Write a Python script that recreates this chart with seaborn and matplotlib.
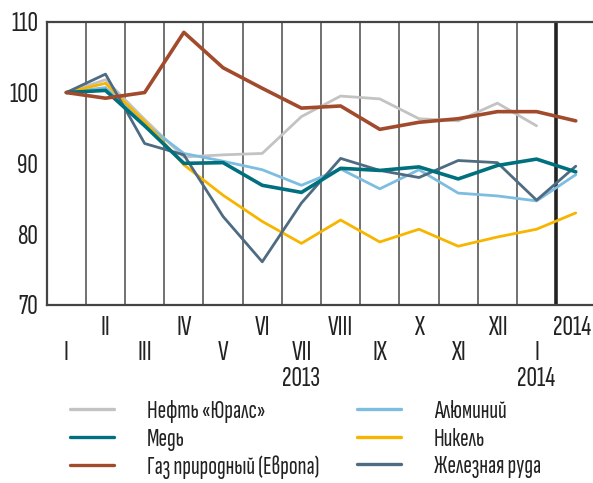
import matplotlib
matplotlib.use("Agg")
import matplotlib.pyplot as plt
from matplotlib.lines import Line2D
from matplotlib.transforms import ScaledTranslation
import seaborn as sns
import pandas as pd

sns.set_theme(style="white")
plt.rcParams['font.family'] = ['Sofia Sans Extra Condensed', 'Roboto Condensed', 'DejaVu Sans']

months = ["I", "II", "III", "IV", "V", "VI", "VII", "VIII", "IX", "X", "XI", "XII", "I", "2014"]
year_labels = {6: "2013", 12: "2014"}

oil = [100, 101.8, 96.2, 90.9, 91.2, 91.4, 96.6, 99.5, 99.1, 96.3, 96.0, 98.5, 95.3]
copper = [100, 100.3, 95.3, 90.0, 90.1, 86.9, 85.9, 89.3, 89.0, 89.5, 87.8, 89.7, 90.6, 88.8]
gas = [100, 99.2, 100.0, 108.5, 103.5, 100.6, 97.8, 98.1, 94.8, 95.8, 96.3, 97.3, 97.3, 96.0]
aluminium = [100, 100.7, 95.6, 91.4, 90.3, 89.1, 86.9, 89.2, 86.4, 89.1, 85.8, 85.4, 84.7, 88.4]
nickel = [100, 101.3, 95.9, 89.8, 85.5, 81.8, 78.7, 82.0, 78.9, 80.7, 78.3, 79.6, 80.7, 83.0]
iron = [100, 102.6, 92.8, 91.2, 82.5, 76.1, 84.4, 90.7, 89.0, 88.0, 90.4, 90.1, 84.8, 89.6]

series = [
    ("Нефть «Юралс»", oil, "#c3c3c3", 2.0),
    ("Алюминий", aluminium, "#7dbde0", 2.0),
    ("Никель", nickel, "#f7b500", 2.0),
    ("Железная руда", iron, "#4e6b82", 2.0),
    ("Медь", copper, "#00707e", 2.6),
    ("Газ природный (Европа)", gas, "#a24b2c", 2.6),
]

rows = []
for name, vals, _, _ in series:
    for k, v in enumerate(vals):
        rows.append({"series": name, "k": k, "value": v})
df = pd.DataFrame(rows)

W, H = 593, 483
fig = plt.figure(figsize=(W / 100, H / 100), dpi=100)
ax = fig.add_axes([46.7 / W, 1 - 305 / H, (W - 46.7) / W, (305 - 21.7) / H])

for k in range(12):
    ax.axvline(k + 0.5, color="#666666", lw=1.3, zorder=1)
ax.axvline(12.5, color="#222222", lw=2.6, zorder=1)

for name, vals, color, lw in series:
    sns.lineplot(data=df[df.series == name], x="k", y="value", color=color,
                 lw=lw, ax=ax, zorder=3)

ax.set_xlim(-0.5, 13.44)
ax.set_ylim(70, 110)
ax.set_yticks([70, 80, 90, 100, 110])
ax.set_yticklabels(["70", "80", "90", "100", "110"], fontsize=21, color="#222222")
ax.set_xticks(range(14))
xl = []
for k, m in enumerate(months):
    if k % 2 == 1:
        xl.append(m)
    else:
        lab = "\n" + m
        if k in year_labels:
            lab += "\n" + year_labels[k]
        xl.append(lab)
ax.set_xticklabels(xl, fontsize=21, color="#222222", linespacing=1.07)
ax.tick_params(axis="both", length=0)
ax.tick_params(axis="y", pad=6)
ax.tick_params(axis="x", pad=8)
last = ax.get_xticklabels()[-1]
last.set_transform(last.get_transform() + ScaledTranslation(-4 / 100, 0, fig.dpi_scale_trans))
ax.set_xlabel("")
ax.set_ylabel("")
for s in ["left", "top", "bottom"]:
    ax.spines[s].set_color("#444444")
    ax.spines[s].set_linewidth(1.6)
ax.spines["right"].set_visible(False)
ax.grid(False)

def make_handles(items):
    return [Line2D([0], [0], color=c, lw=2.4) for _, _, c, _ in items]

col1 = [series[0], series[4], series[5]]
col2 = [series[1], series[2], series[3]]
for items, xpos in [(col1, 70 / W), (col2, 357 / W)]:
    fig.legend(make_handles(items), [n for n, _, _, _ in items],
               loc="upper left", bbox_to_anchor=(xpos, 1 - 400 / H),
               frameon=False, fontsize=18.5, handlelength=1.7, handletextpad=1.3,
               labelspacing=0.18, borderpad=0, borderaxespad=0,
               labelcolor="#222222")

fig.savefig("out.png", dpi=100)
